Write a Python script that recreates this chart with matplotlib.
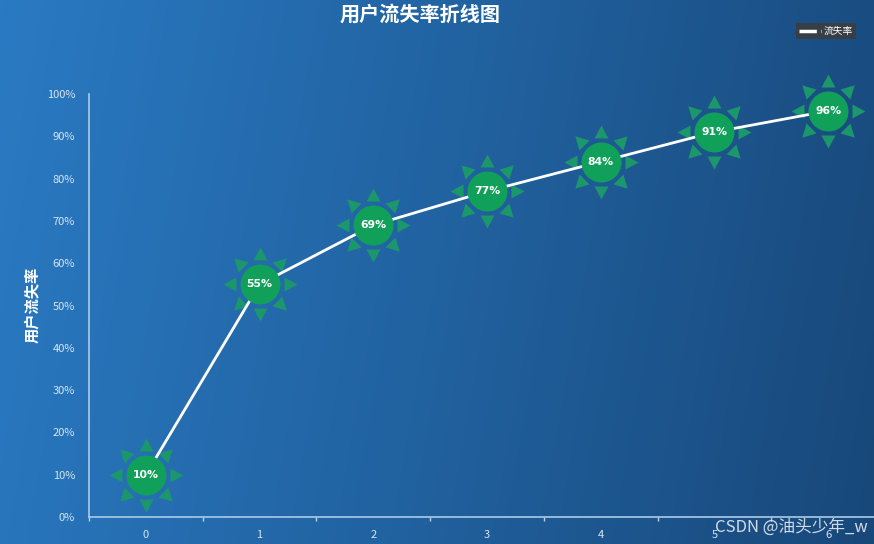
import numpy as np
import matplotlib
matplotlib.use("Agg")
import matplotlib.pyplot as plt
from matplotlib.path import Path
from matplotlib.colors import LinearSegmentedColormap

plt.rcParams['font.family'] = ['Noto Sans CJK SC', 'DejaVu Sans']

categories = ['0', '1', '2', '3', '4', '5', '6']
churn_rate = [10, 55, 69, 77, 84, 91, 96]
y_ticks = [0, 10, 20, 30, 40, 50, 60, 70, 80, 90, 100]
y_tick_labels = [f'{v}%' for v in y_ticks]
title = '用户流失率折线图'
y_label = '用户流失率'
legend_label = '流失率'

W, H = 874, 544
fig = plt.figure(figsize=(W / 100, H / 100), dpi=100)

# background gradient
bg = fig.add_axes([0, 0, 1, 1], zorder=-10)
cmap = LinearSegmentedColormap.from_list('bg', [(42/255, 122/255, 195/255), (33/255, 98/255, 160/255), (24/255, 72/255, 122/255)])
gx = np.linspace(0, 1, 400)
gy = np.linspace(0, 1, 200)
G = gx[None, :] * 0.9 + gy[:, None] * 0.1
bg.imshow(G, cmap=cmap, aspect='auto', extent=[0, 1, 0, 1], origin='upper')
bg.axis('off')

left = 89 / W
width = 7 * 113.71 / W
bottom = (H - 517) / H
height = 423 / H
ax = fig.add_axes([left, bottom, width, height])
ax.patch.set_alpha(0)

x = np.arange(len(categories))

# sun marker rays
verts, codes = [], []
r_base, r_tip, half_w = 24.0, 37.0, 7.0
for k in range(8):
    a = np.deg2rad(90 + 45 * k)
    c, s = np.cos(a), np.sin(a)
    px, py = -s, c
    p1 = (r_base * c + half_w * px, r_base * s + half_w * py)
    p2 = (r_tip * c, r_tip * s)
    p3 = (r_base * c - half_w * px, r_base * s - half_w * py)
    verts += [p1, p2, p3, p1]
    codes += [Path.MOVETO, Path.LINETO, Path.LINETO, Path.CLOSEPOLY]
rays = Path(verts, codes)
px2pt = 72 / 100
ax.plot(x, churn_rate, linestyle='none', marker=rays, markersize=2 * r_tip * px2pt,
        markerfacecolor='#1c976c', markeredgewidth=0, zorder=2, clip_on=False)
ax.plot(x, churn_rate, color='white', linewidth=2, zorder=3, clip_on=False)
ax.plot(x, churn_rate, linestyle='none', marker='o', markersize=40 * px2pt,
        markerfacecolor='#11a05a', markeredgewidth=0, zorder=4, clip_on=False)
for xi, v in zip(x, churn_rate):
    ax.text(xi, v, f'{v}%', color='white', fontsize=7.8, fontweight='bold',
            ha='center', va='center', zorder=5, family=['DejaVu Sans'])

ax.set_xlim(-0.5, len(categories) - 0.5)
ax.set_ylim(0, 100)
ax.set_yticks(y_ticks)
ax.set_yticklabels(y_tick_labels)
ax.set_xticks(x)
ax.set_xticklabels(categories)
ax.set_xticks(np.arange(len(categories) + 1) - 0.5, minor=True)
ax.tick_params(axis='y', length=0, colors='#d8e6f3', labelsize=8, pad=10)
ax.tick_params(axis='x', which='major', length=0, colors='#d8e6f3', labelsize=8, pad=9)
ax.tick_params(axis='x', which='minor', length=3, color='#b8d2ea', width=1)
for sp in ['top', 'right']:
    ax.spines[sp].set_visible(False)
for sp in ['left', 'bottom']:
    ax.spines[sp].set_color('#a9cbea')
    ax.spines[sp].set_linewidth(1.2)

fig.text(420 / W, 1 - 14 / H, title, color='white', fontsize=14.5, fontweight='bold',
         ha='center', va='center')
fig.text(32 / W, 1 - 305 / H, y_label, color='white', fontsize=11, fontweight='bold',
         ha='center', va='center', rotation=90)

# legend
ax.plot([], [], color='white', linewidth=2.5, dashes=(5, 1.2), label=legend_label)
lg = fig.legend(loc='center', bbox_to_anchor=(826 / W, 1 - 31 / H), frameon=True,
                fontsize=7, labelcolor='white', handlelength=2.2, handletextpad=0.3,
                borderpad=0.35, borderaxespad=0, fancybox=False)
lg.get_frame().set_facecolor('#3b3d40')
lg.get_frame().set_edgecolor('none')
lg.get_frame().set_alpha(0.9)

fig.text(868 / W, 1 - 527 / H, 'CSDN @油头少年_w', color='#e6ecf2', fontsize=12,
         ha='right', va='center', alpha=0.9)

fig.savefig('out.png', dpi=100)
